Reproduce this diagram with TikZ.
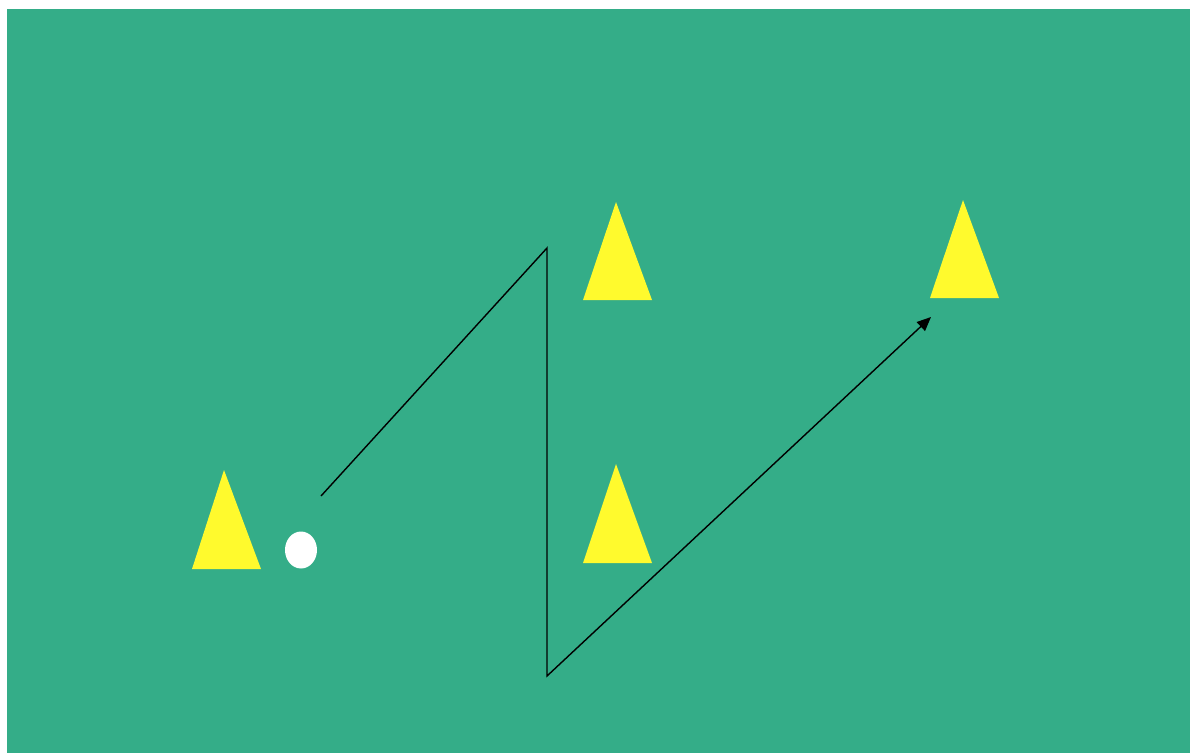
\documentclass[tikz,border=0pt]{standalone}
\usetikzlibrary{arrows.meta,shapes.geometric}
\definecolor{field}{RGB}{52,173,136}
\definecolor{cone}{RGB}{255,250,45}
\begin{document}
\begin{tikzpicture}[x=1pt,y=-1pt,
  conestyle/.style={fill=cone,draw=none},
  runline/.style={draw=black,line width=1.4pt,line join=miter}]
\useasboundingbox (0,0) rectangle (1190,753);
\fill[white] (0,0) rectangle (1190,753);
\fill[field] (7,9) rectangle (1190,753);
% cones
\fill[conestyle] (224,470) -- (261,569) -- (192,569) -- cycle;
\fill[conestyle] (616,202) -- (652,300) -- (583,300) -- cycle;
\fill[conestyle] (616,464) -- (652,563) -- (583,563) -- cycle;
\fill[conestyle] (963,200) -- (999,298) -- (930,298) -- cycle;
% ball
\node[ellipse, fill=white, minimum width=32pt, minimum height=37pt, inner sep=0pt, draw=none] (ball) at (301,550) {};
% run path
\coordinate (s) at (321,496);
\coordinate (p1) at (547,248);
\coordinate (p2) at (547,676);
\coordinate (e) at (931,317);
\draw[runline,-{Triangle[length=14pt,width=12pt]}] (s) -- (p1) -- (p2) -- (e);
\end{tikzpicture}
\end{document}
